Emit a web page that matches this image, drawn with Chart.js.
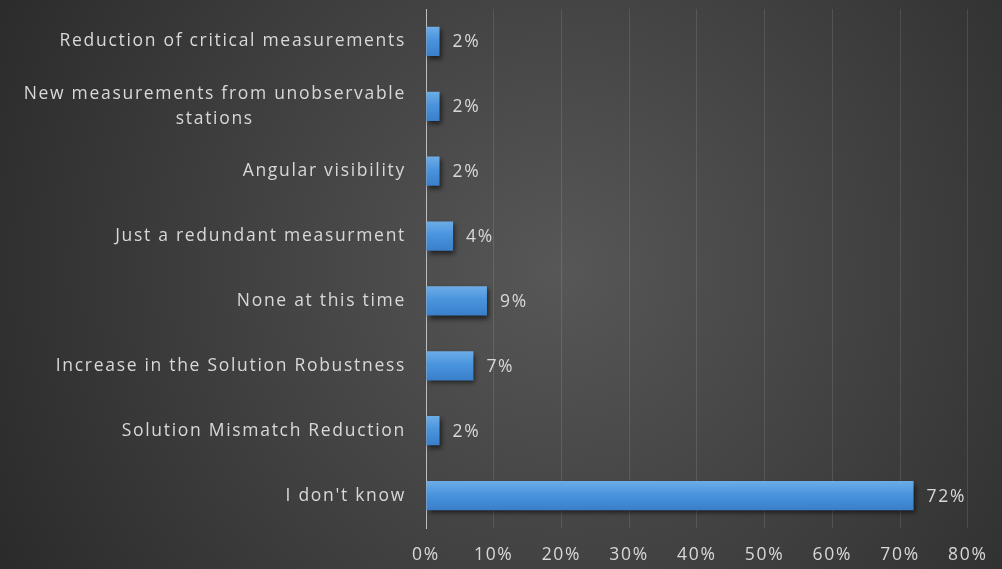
<!DOCTYPE html>
<html>
<head>
<meta charset="utf-8">
<script src="https://cdn.jsdelivr.net/npm/chart.js@4/dist/chart.umd.min.js"></script>
<style>
  html, body { margin: 0; padding: 0; background: #333; }
  #wrap { width: 1002px; height: 569px; position: relative; }
</style>
</head>
<body>
<div id="wrap"><canvas id="c" width="1002" height="569"></canvas></div>
<script>
// Answers, listed top to bottom
const categories = [
  ["Reduction of critical measurements"],
  ["New measurements from unobservable", "stations"],
  ["Angular visibility"],
  ["Just a redundant measurment"],
  ["None at this time"],
  ["Increase in the Solution Robustness"],
  ["Solution Mismatch Reduction"],
  ["I don't know"]
];
// Share of respondents, percent
const shares = [2, 2, 2, 4, 9, 7, 2, 72];
// Horizontal axis tick values, percent
const xTicks = [0, 10, 20, 30, 40, 50, 60, 70, 80];

const TEXT = '#d8d8d8';
const FONT_FAMILY = '"Open Sans", "DejaVu Sans", sans-serif';
const FONT_SIZE = 17.5;
const SPACING = '1.7px';

// Dark radial backdrop; also sets the wide letter spacing used by all text
const backdrop = {
  id: 'backdrop',
  beforeInit(chart) { chart.ctx.letterSpacing = SPACING; },
  beforeDraw(chart) {
    const { ctx, width, height } = chart;
    ctx.letterSpacing = SPACING;
    const g = ctx.createRadialGradient(560, 270, 0, 560, 270, 700);
    g.addColorStop(0, '#575757');
    g.addColorStop(0.55, '#3c3c3c');
    g.addColorStop(1, '#262626');
    ctx.save();
    ctx.fillStyle = g;
    ctx.fillRect(0, 0, width, height);
    ctx.restore();
  }
};

// Soft drop shadow under the bars
const barShadow = {
  id: 'barShadow',
  beforeDatasetsDraw(chart) {
    const ctx = chart.ctx;
    ctx.save();
    ctx.shadowColor = 'rgba(0,0,0,0.6)';
    ctx.shadowBlur = 5;
    ctx.shadowOffsetX = 2;
    ctx.shadowOffsetY = 3;
  },
  afterDatasetsDraw(chart) {
    chart.ctx.restore();
  }
};

// Category names on the left (multi-line names centred line by line) and value labels right of each bar
const labelsPlugin = {
  id: 'labelsPlugin',
  afterDatasetsDraw(chart) {
    const { ctx, scales } = chart;
    const y = scales.y, x = scales.x;
    const lineH = 25;
    ctx.save();
    ctx.letterSpacing = SPACING;
    ctx.fillStyle = TEXT;
    ctx.font = FONT_SIZE + 'px ' + FONT_FAMILY;
    ctx.textBaseline = 'middle';
    const right = chart.chartArea.left - 20;
    categories.forEach((lines, i) => {
      const cy = y.getPixelForValue(i);
      const maxW = Math.max(...lines.map(l => ctx.measureText(l).width));
      const cx = right - maxW / 2;
      ctx.textAlign = 'center';
      lines.forEach((l, k) => {
        const ly = cy + (k - (lines.length - 1) / 2) * lineH;
        ctx.fillText(l, cx, ly);
      });
    });
    ctx.textAlign = 'left';
    shares.forEach((v, i) => {
      const cy = y.getPixelForValue(i);
      ctx.fillText(v + '%', x.getPixelForValue(v) + 13, cy + 1);
    });
    ctx.restore();
  }
};

function barFill(context) {
  const chart = context.chart;
  const y = chart.scales && chart.scales.y;
  if (!y || !chart.chartArea) return '#4a90d9';
  const cy = y.getPixelForValue(context.dataIndex);
  const g = chart.ctx.createLinearGradient(0, cy - 15, 0, cy + 15);
  g.addColorStop(0, '#6eaee8');
  g.addColorStop(0.45, '#4a94de');
  g.addColorStop(1, '#3a7ec9');
  return g;
}

new Chart(document.getElementById('c'), {
  type: 'bar',
  data: {
    labels: categories,
    datasets: [{
      data: shares,
      backgroundColor: barFill,
      borderWidth: 0,
      categoryPercentage: 0.9,
      barPercentage: 0.5
    }]
  },
  options: {
    indexAxis: 'y',
    responsive: false,
    animation: false,
    devicePixelRatio: 1,
    layout: { padding: { top: 9, right: 31, left: 0, bottom: 0 } },
    plugins: { legend: { display: false }, tooltip: { enabled: false } },
    scales: {
      x: {
        min: 0,
        max: 80,
        afterBuildTicks(scale) { scale.ticks = xTicks.map(v => ({ value: v })); },
        afterFit(scale) { scale.height = 41; },
        border: { display: false },
        grid: { color: 'rgba(255,255,255,0.11)', lineWidth: 1, drawTicks: false },
        ticks: {
          color: TEXT,
          font: { family: FONT_FAMILY, size: FONT_SIZE },
          padding: 17,
          maxRotation: 0,
          autoSkip: false,
          callback: v => v + '%'
        }
      },
      y: {
        afterFit(scale) { scale.width = 426; },
        border: { display: true, color: '#bdbdbd', width: 1 },
        grid: { display: false, drawTicks: false },
        ticks: { display: false }
      }
    }
  },
  plugins: [backdrop, barShadow, labelsPlugin]
});
</script>
</body>
</html>
